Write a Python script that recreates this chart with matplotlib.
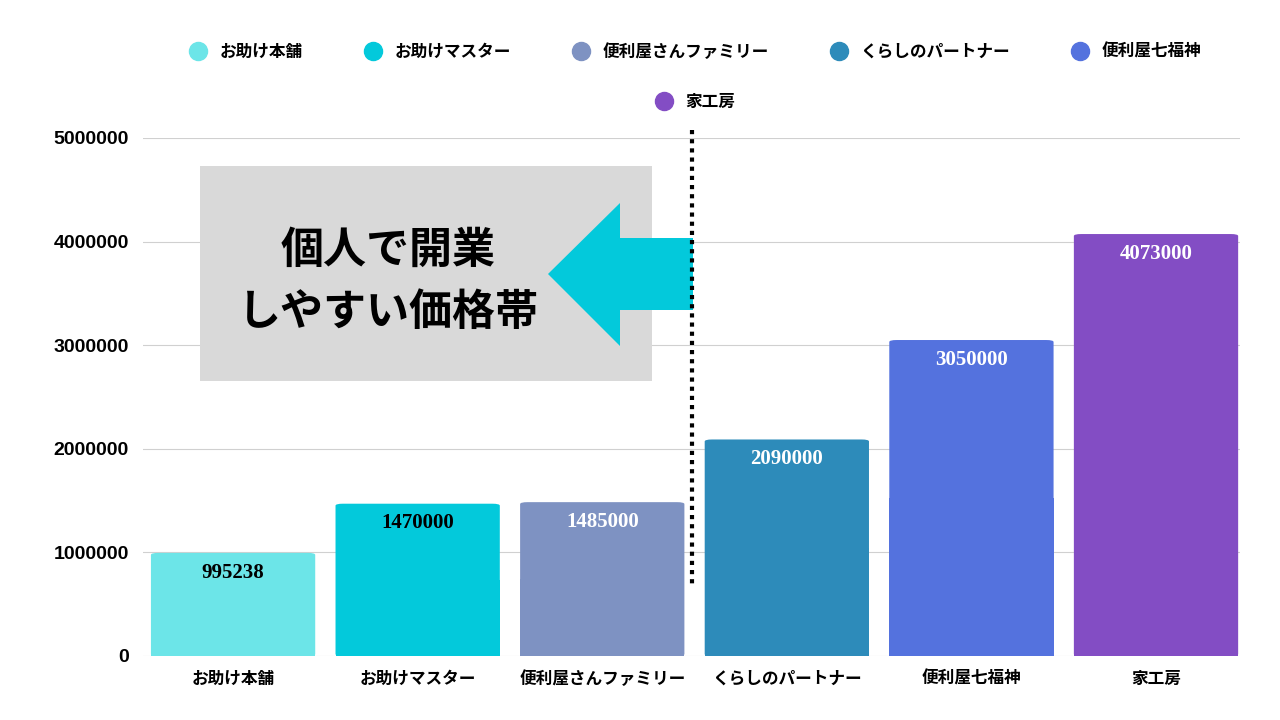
import matplotlib
matplotlib.use("Agg")
from matplotlib import pyplot as plt
from matplotlib.lines import Line2D
from matplotlib.patches import FancyBboxPatch, Polygon, Rectangle

companies = ["お助け本舗", "お助けマスター", "便利屋さんファミリー", "くらしのパートナー", "便利屋七福神", "家工房"]
prices = [995238, 1470000, 1485000, 2090000, 3050000, 4073000]
colors = ["#6CE5E8", "#03C9DB", "#7E92C2", "#2D8BBA", "#5472DE", "#834DC4"]
label_colors = ["black", "black", "white", "white", "white", "white"]
yticks = [0, 1000000, 2000000, 3000000, 4000000, 5000000]

jp = "Noto Sans CJK JP"

fig = plt.figure(figsize=(12.8, 7.2), dpi=100)
ax = fig.add_axes([143 / 1280, 64 / 720, 1097 / 1280, 518 / 720])
ax.set_xlim(-0.488, 5.455)
ax.set_ylim(0, 5000000)

bw = 0.89
for i, (p, c) in enumerate(zip(prices, colors)):
    ax.add_patch(FancyBboxPatch((i - bw / 2, 0), bw, p,
                                boxstyle="round,pad=0,rounding_size=0.04",
                                mutation_aspect=5000000 / 5.9 * 0.55,
                                facecolor=c, edgecolor="none", zorder=2))
    ax.add_patch(Rectangle((i - bw / 2, 0), bw, p * 0.5, facecolor=c, edgecolor="none", zorder=2))
    ax.text(i, p - 190000, str(p), ha="center", va="center", color=label_colors[i],
            fontsize=15, fontweight="bold", family="Liberation Serif", zorder=3)

ax.set_xticks(range(len(companies)))
ax.set_xticklabels(companies, family=jp, fontweight="bold", fontsize=12)
ax.set_yticks(yticks)
ax.set_yticklabels([str(v) for v in yticks], fontweight="bold", fontsize=14, family="Liberation Sans")
ax.tick_params(length=0, pad=10)
ax.grid(axis="y", color="#d0d0d0", lw=0.8, zorder=0)
for s in ax.spines.values():
    s.set_visible(False)

handles = [Line2D([], [], marker="o", ls="", ms=13, color=c) for c in colors]
prop = {"family": jp, "weight": "bold", "size": 12}
leg1 = fig.legend(handles[:5], companies[:5], ncol=5, loc="center", bbox_to_anchor=(0.54, 0.928),
                  frameon=False, prop=prop, handletextpad=0.3, columnspacing=3.2)
fig.legend(handles[5:], companies[5:], loc="center", bbox_to_anchor=(0.54, 0.858),
           frameon=False, prop=prop, handletextpad=0.3)

# annotation: gray box, arrow, dotted divider (figure pixel coords)
W, H = 1280, 720
def fp(x, y):
    return (x / W, 1 - y / H)
fig.patches.append(Rectangle(fp(200, 381), 452 / W, 215 / H, transform=fig.transFigure,
                             facecolor="#D9D9D9", edgecolor="none", zorder=5))
arrow = [fp(548, 274), fp(620, 203), fp(620, 238), fp(693, 238), fp(693, 310),
         fp(620, 310), fp(620, 346)]
fig.patches.append(Polygon(arrow, closed=True, transform=fig.transFigure,
                           facecolor="#03C9DB", edgecolor="none", zorder=5))
fig.lines.append(Line2D([692 / W, 692 / W], [1 - 130 / H, 1 - 585 / H], transform=fig.transFigure,
                        color="black", lw=3, ls=(0, (1, 1.2)), zorder=6))
fig.text(388 / W, 1 - 250 / H, "個人で開業", ha="center", va="center", family=jp,
         fontweight="bold", fontsize=31, zorder=6)
fig.text(388 / W, 1 - 312 / H, "しやすい価格帯", ha="center", va="center", family=jp,
         fontweight="bold", fontsize=31, zorder=6)

fig.savefig("out.png", dpi=100)
